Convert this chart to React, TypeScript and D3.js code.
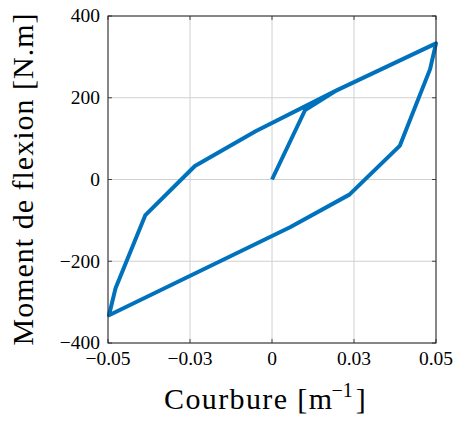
import * as d3 from "d3";

const WIDTH = 456;
const HEIGHT = 421;
const MARGIN = { top: 16, right: 20, bottom: 78, left: 108 };

// courbure [1/m] et moment [N.m], dans l'ordre du chargement
const curvature = [
  0, 0.0101, 0.0197, 0.05, 0.0482, 0.039, 0.0236, 0.0055, -0.0497, -0.0477,
  -0.0386, -0.0235, -0.005, 0.0197, 0.05,
];
const moment = [
  0, 170, 218, 333, 270, 83, -37, -117, -332, -266, -87, 33, 118, 218, 333,
];

const xTicks = [-0.05, -0.025, 0, 0.025, 0.05];
const xTickLabels = ["\u22120.05", "\u22120.03", "0", "0.03", "0.05"];
const yTicks = [-400, -200, 0, 200, 400];
const yTickLabels = ["\u2212400", "\u2212200", "0", "200", "400"];

const FONT = "'Liberation Serif', 'DejaVu Serif', serif";
const LINE_COLOR = "#0072BD";

export default function App() {
  const w = WIDTH - MARGIN.left - MARGIN.right;
  const h = HEIGHT - MARGIN.top - MARGIN.bottom;

  const x = d3.scaleLinear().domain([-0.05, 0.05]).range([0, w]);
  const y = d3.scaleLinear().domain([-400, 400]).range([h, 0]);

  const pts = curvature.map((c, i) => [c, moment[i]] as [number, number]);
  const line = d3
    .line<[number, number]>()
    .x((d) => x(d[0]))
    .y((d) => y(d[1]));

  return (
    <svg
      width={WIDTH}
      height={HEIGHT}
      style={{ position: "absolute", left: 0, top: 0, background: "white" }}
    >
      <g transform={`translate(${MARGIN.left},${MARGIN.top})`}>
        {/* grille */}
        {xTicks.map((t) => (
          <line key={"gx" + t} x1={x(t)} x2={x(t)} y1={0} y2={h} stroke="#d0d0d0" strokeWidth={1} />
        ))}
        {yTicks.map((t) => (
          <line key={"gy" + t} x1={0} x2={w} y1={y(t)} y2={y(t)} stroke="#d0d0d0" strokeWidth={1} />
        ))}

        {/* graduations */}
        {xTicks.map((t) => (
          <g key={"tx" + t}>
            <line x1={x(t)} x2={x(t)} y1={h} y2={h - 4} stroke="#444" />
            <line x1={x(t)} x2={x(t)} y1={0} y2={4} stroke="#444" />
          </g>
        ))}
        {yTicks.map((t) => (
          <g key={"ty" + t}>
            <line x1={0} x2={4} y1={y(t)} y2={y(t)} stroke="#444" />
            <line x1={w} x2={w - 4} y1={y(t)} y2={y(t)} stroke="#444" />
          </g>
        ))}

        <path
          d={line(pts) ?? ""}
          fill="none"
          stroke={LINE_COLOR}
          strokeWidth={4}
          strokeLinejoin="round"
          strokeLinecap="butt"
        />

        <rect x={0} y={0} width={w} height={h} fill="none" stroke="#262626" strokeWidth={1} />

        {xTicks.map((t, i) => (
          <text
            key={"lx" + t}
            x={x(t)}
            y={h + 22}
            textAnchor="middle"
            fontFamily={FONT}
            fontSize={19.5}
            fill="#000"
          >
            {xTickLabels[i]}
          </text>
        ))}
        {yTicks.map((t, i) => (
          <text
            key={"ly" + t}
            x={-8}
            y={y(t)}
            dy="0.33em"
            textAnchor="end"
            fontFamily={FONT}
            fontSize={19.5}
            fill="#000"
          >
            {yTickLabels[i]}
          </text>
        ))}

        <text
          x={w / 2 - 108}
          y={h + 66}
          fontFamily={FONT}
          fontSize={30}
          fill="#000"
        >
          <tspan textLength={168} lengthAdjust="spacing">Courbure [m</tspan>
          <tspan dy={-12} fontSize={20} dx={-2}>{"\u22121"}</tspan>
          <tspan dy={12} dx={3}>]</tspan>
        </text>
        <text
          transform={`translate(${-75},${h / 2}) rotate(-90)`}
          x={-166}
          fontFamily={FONT}
          fontSize={30}
          fill="#000"
          textLength={332}
          lengthAdjust="spacing"
        >
          Moment de flexion [N.m]
        </text>
      </g>
    </svg>
  );
}
